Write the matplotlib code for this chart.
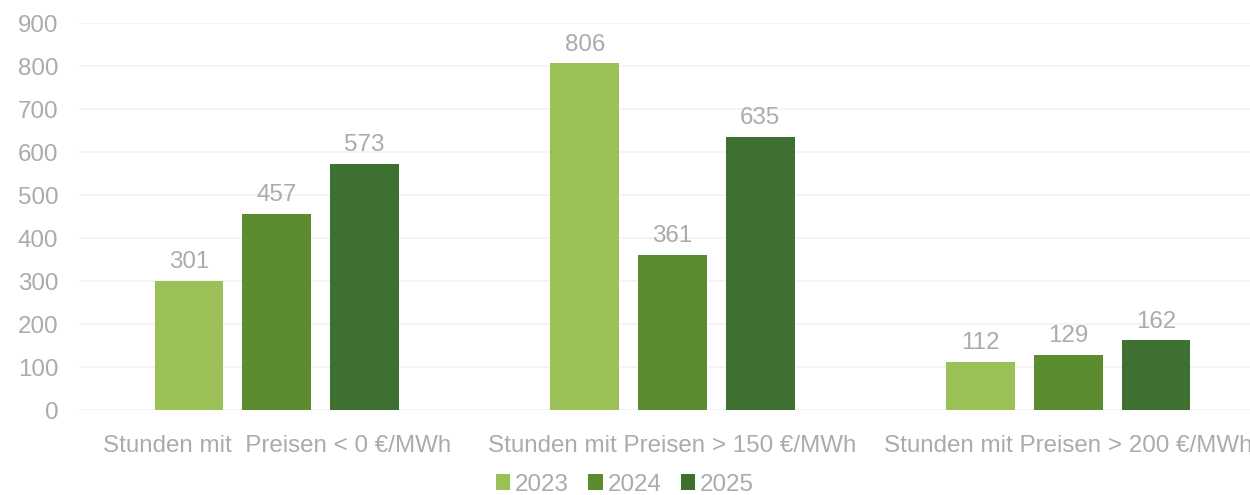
import matplotlib.pyplot as plt
import numpy as np

plt.rcParams['font.family'] = ['Liberation Sans', 'DejaVu Sans']

categories = ["Stunden mit  Preisen < 0 €/MWh",
              "Stunden mit Preisen > 150 €/MWh",
              "Stunden mit Preisen > 200 €/MWh"]
years = ["2023", "2024", "2025"]
v2023 = [301, 806, 112]
v2024 = [457, 361, 129]
v2025 = [573, 635, 162]
colors = ["#9BC057", "#5B8C2F", "#3E7031"]

txt = "#ABABAB"
fig = plt.figure(figsize=(12.5, 4.95), dpi=100)
ax = fig.add_axes([0.0632, 0.1717, 0.9496, 0.7818])

x = np.arange(len(categories))
w = 0.174
step = 0.222
for i, (vals, yr) in enumerate(zip([v2023, v2024, v2025], years)):
    bars = ax.bar(x + (i - 1) * step, vals, w, color=colors[i], label=yr, zorder=3)
    for b, v in zip(bars, vals):
        ax.text(b.get_x() + b.get_width() / 2, v + 18, str(v), ha='center', va='bottom',
                color=txt, fontsize=17.4)

ax.set_xlim(-0.5, 2.5)
ax.set_ylim(0, 900)
ax.set_yticks(range(0, 901, 100))
ax.set_xticks(x)
ax.set_xticklabels(categories)
ax.tick_params(axis='both', length=0, colors=txt, labelsize=17.4)
ax.tick_params(axis='y', pad=15)
ax.tick_params(axis='x', pad=18)
ax.grid(axis='y', color='#F2F2F2', linewidth=1.2, zorder=0)
for s in ax.spines.values():
    s.set_visible(False)

leg = fig.legend(loc='lower center', bbox_to_anchor=(0.5, -0.045), ncol=3, frameon=False,
                 fontsize=17.4, handlelength=0.6, handleheight=0.6, handletextpad=0.2,
                 columnspacing=0.8)
for t in leg.get_texts():
    t.set_color(txt)

fig.savefig("out.png", dpi=100)
